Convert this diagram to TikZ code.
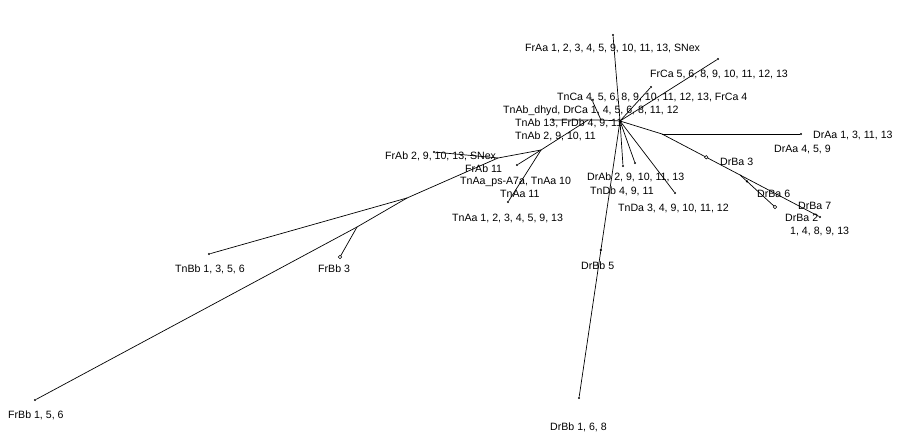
\documentclass[tikz,border=0pt]{standalone}
\usepackage{fontspec}
\setmainfont{Liberation Sans}
\usetikzlibrary{shapes.geometric,calc}
\begin{document}
\begin{tikzpicture}[x=1pt,y=-1pt,
  edge/.style={line width=0.7pt, black},
  lbl/.style={anchor=base west, inner sep=0pt, font=\fontsize{10.6}{12}\selectfont},
  tipdot/.style={circle, fill=black, inner sep=0pt, minimum size=2.4pt},
  tipdia/.style={diamond, draw=black, fill=white, line width=0.5pt, inner sep=0pt, minimum size=3.6pt}]
\useasboundingbox (0,0) rectangle (923,439);
\fill[white] (0,0) rectangle (923,439);

% branch points
\coordinate (H) at (620,121);
\coordinate (K1) at (601,120);
\coordinate (K2) at (588,120);
\coordinate (M) at (541,150);
\coordinate (P) at (498,158);
\coordinate (N1) at (407,198);
\coordinate (N2) at (357,227);
\coordinate (A2) at (662,134);

% tips
\node[tipdot] (fraa) at (613,35) {};
\node[tipdot] (tca) at (651,87) {};
\node[tipdot] (frca) at (718,59) {};
\node[tipdot] (tnca) at (592,100) {};
\node[tipdot] (tnab13) at (553,120) {};
\node[tipdot] (frab11) at (517,165) {};
\node[tipdot] (tnaa) at (508,202) {};
\node[tipdot] (frab) at (434,152) {};
\node[tipdot] (tnbb) at (209,254) {};
\node[tipdia] (frbb3) at (340,257) {};
\node[tipdot] (frbb) at (35,400) {};
\node[tipdot] (drab) at (623,166) {};
\node[tipdot] (tndb) at (635,163) {};
\node[tipdot] (tnda) at (675,193) {};
\node[tipdot] (drbb) at (579,398) {};
\node[tipdot] (draa) at (801,134) {};
\node[tipdot] (drba) at (820,217) {};
\coordinate (B6) at ($(A2)!0.4937!(drba)$);
\node[tipdia] (drba6) at (775,207) {};

% connectors
\draw[edge] (H) -- (fraa);
\draw[edge] (H) -- (tca);
\draw[edge] (H) -- (frca);
\draw[edge] (H) -- (K1) -- (K2) -- (tnab13);
\draw[edge] (K1) -- (tnca);
\draw[edge] (K2) -- (M);
\draw[edge] (M) -- (frab11);
\draw[edge] (M) -- (tnaa);
\draw[edge] (M) -- (P);
\draw[edge] (P) -- (frab);
\draw[edge] (P) -- (N1);
\draw[edge] (N1) -- (tnbb);
\draw[edge] (N1) -- (N2);
\draw[edge] (N2) -- (frbb3);
\draw[edge] (N2) -- (frbb);
\draw[edge] (H) -- (drab);
\draw[edge] (H) -- (tndb);
\draw[edge] (H) -- (tnda);
\draw[edge] (H) -- (drbb);
\draw[edge] (H) -- (A2);
\draw[edge] (A2) -- (draa);
\draw[edge] (A2) -- (drba);
\draw[edge] (B6) -- (drba6);

% small marks on branches
\node[tipdot] (drbb5) at ($(H)!0.4657!(drbb)$) {};
\node[tipdia] (drba3) at ($(A2)!0.28!(drba)$) {};
\node[tipdot] (drba6m) at ($(B6)!0.2!(drba6)$) {};

% labels
\node[lbl] (lfraa) at (525,51) {FrAa 1, 2, 3, 4, 5, 9, 10, 11, 13, SNex};
\node[lbl] (lfrca) at (650,77) {FrCa 5, 6, 8, 9, 10, 11, 12, 13};
\node[lbl] (ltnca) at (557,100) {TnCa 4, 5, 6, 8, 9, 10, 11, 12, 13, FrCa 4};
\node[lbl] (ldhyd) at (503,113) {TnAb\_dhyd, DrCa 1, 4, 5, 6, 8, 11, 12};
\node[lbl] (ltnab13) at (515,126) {TnAb 13, FrDb 4, 9, 11};
\node[lbl] (ltnab2) at (515,139) {TnAb 2, 9, 10, 11};
\node[lbl] (lfrab) at (385,159) {FrAb 2, 9, 10, 13, SNex};
\node[lbl] (lfrab11) at (465,172) {FrAb 11};
\node[lbl] (lps) at (460,184) {TnAa\_ps-A7a, TnAa 10};
\node[lbl] (ltnaa11) at (500,197) {TnAa 11};
\node[lbl] (ltnaa) at (452,221) {TnAa 1, 2, 3, 4, 5, 9, 13};
\node[lbl] (ldrab) at (587,180) {DrAb 2, 9, 10, 11, 13};
\node[lbl] (ltndb) at (590,194) {TnDb 4, 9, 11};
\node[lbl] (ltnda) at (618,211) {TnDa 3, 4, 9, 10, 11, 12};
\node[lbl] (ldraa1) at (813,138) {DrAa 1, 3, 11, 13};
\node[lbl] (ldraa4) at (774,152) {DrAa 4, 5, 9};
\node[lbl] (ldrba3) at (720,165) {DrBa 3};
\node[lbl] (ldrba6) at (757,197) {DrBa 6};
\node[lbl] (ldrba7) at (798,209) {DrBa 7};
\node[lbl] (ldrba2) at (785,221) {DrBa 2};
\node[lbl] (ldrba2b) at (790,234) {1, 4, 8, 9, 13};
\node[lbl] (ldrbb5) at (581,269) {DrBb 5};
\node[lbl] (ldrbb) at (550,430) {DrBb 1, 6, 8};
\node[lbl] (ltnbb) at (175,272) {TnBb 1, 3, 5, 6};
\node[lbl] (lfrbb3) at (318,272) {FrBb 3};
\node[lbl] (lfrbb) at (8,418) {FrBb 1, 5, 6};
\end{tikzpicture}
\end{document}
